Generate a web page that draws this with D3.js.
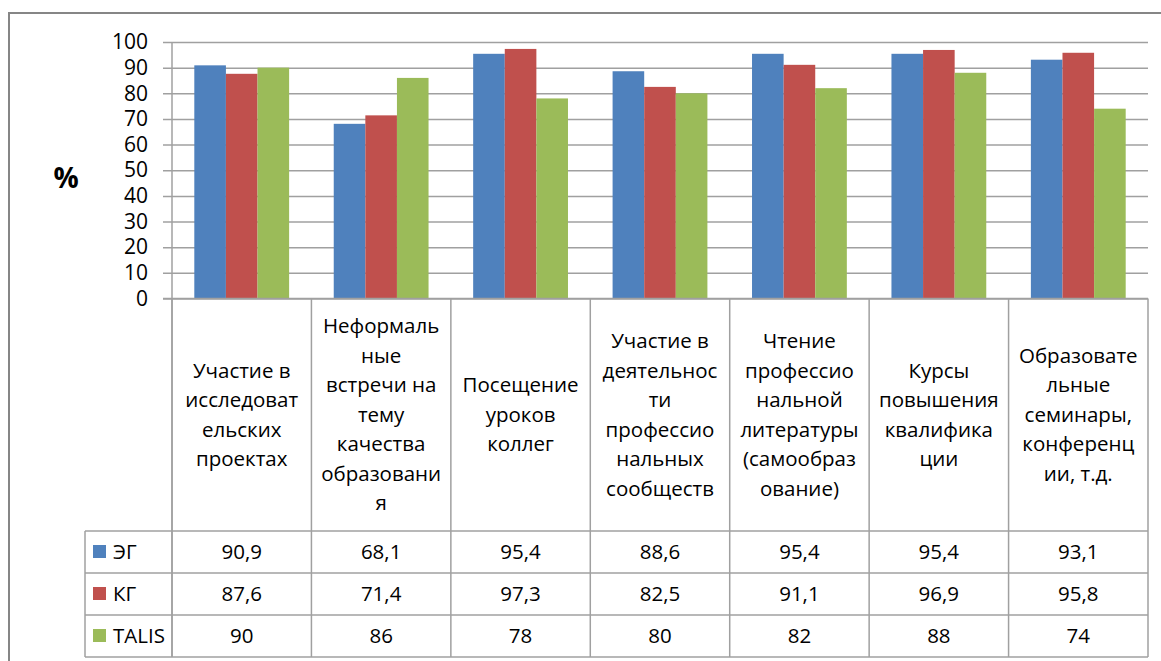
<!DOCTYPE html>
<html><head><meta charset="utf-8">
<script src="https://cdn.jsdelivr.net/npm/d3@7"></script>
<style>
html,body{margin:0;padding:0;background:#fff;}
svg{display:block;}
text{font-family:"Open Sans","Noto Sans",sans-serif;fill:#000;}
</style></head>
<body>
<svg id="chart" width="1161" height="661"></svg>
<script>
const categories = [
  ["Участие в","исследоват","ельских","проектах"],
  ["Неформаль","ные","встречи на","тему","качества","образовани","я"],
  ["Посещение","уроков","коллег"],
  ["Участие в","деятельнос","ти","профессио","нальных","сообществ"],
  ["Чтение","профессио","нальной","литературы","(самообраз","ование)"],
  ["Курсы","повышения","квалифика","ции"],
  ["Образовате","льные","семинары,","конференц","ии, т.д."]
];
const seriesNames = ["ЭГ","КГ","TALIS"];
const valuesEG    = [90.9, 68.1, 95.4, 88.6, 95.4, 95.4, 93.1];
const valuesKG    = [87.6, 71.4, 97.3, 82.5, 91.1, 96.9, 95.8];
const valuesTALIS = [90, 86, 78, 80, 82, 88, 74];
const yTicks = [0,10,20,30,40,50,60,70,80,90,100];
const colors = ["#4F81BD","#C0504D","#9BBB59"];

const series = [valuesEG, valuesKG, valuesTALIS];
const svg = d3.select("#chart");

const L = 172, R = 1148, T = 42, B = 298.5;
const rowTop = 531, rowH = 42, legendLeft = 85;
const tableBottom = rowTop + rowH*3;

// outer frame
svg.append("rect").attr("x",9).attr("y",13).attr("width",1200).attr("height",700)
  .attr("fill","none").attr("stroke","#868686").attr("stroke-width",2);

const idx = d3.range(categories.length);
const x0 = d3.scaleBand().domain(idx).range([L,R]).paddingInner(0).paddingOuter(0);
const bw = x0.bandwidth();
const gap = bw*0.16;
const x1 = d3.scaleBand().domain(d3.range(seriesNames.length)).range([gap, bw-gap]);
const y = d3.scaleLinear().domain([0,100]).range([B,T]);

// gridlines + y axis
const yAxis = d3.axisLeft(y).tickValues(yTicks).tickSize(-(R-L)).tickPadding(15).tickFormat(d3.format("d"));
const gy = svg.append("g").attr("transform",`translate(${L},0)`).call(yAxis);
gy.select(".domain").remove();
gy.selectAll(".tick line").attr("stroke","#a0a0a0").attr("stroke-width",1.5).attr("x1",-9);
gy.selectAll(".tick text").attr("font-size",21).attr("font-family","Open Sans").attr("fill","#000").attr("x",-24);

// bars
series.forEach((vals,si)=>{
  svg.append("g").selectAll("rect").data(vals).join("rect")
    .attr("x",(d,i)=>x0(i)+x1(si))
    .attr("y",d=>y(d))
    .attr("width",x1.bandwidth())
    .attr("height",d=>y(0)-y(d))
    .attr("fill",colors[si]);
});

// axes / table lines
const lineColor = "#a0a0a0";
svg.append("line").attr("x1",L-9).attr("x2",R).attr("y1",B).attr("y2",B).attr("stroke",lineColor).attr("stroke-width",1.5);
svg.append("line").attr("x1",L).attr("x2",L).attr("y1",T).attr("y2",tableBottom).attr("stroke",lineColor).attr("stroke-width",1.5);
idx.concat([categories.length]).forEach(i=>{
  const xx = i<categories.length ? x0(i) : R;
  svg.append("line").attr("x1",xx).attr("x2",xx).attr("y1",B).attr("y2",tableBottom).attr("stroke",lineColor).attr("stroke-width",1.5);
});
for(let r=0;r<=3;r++){
  svg.append("line").attr("x1",legendLeft).attr("x2",R).attr("y1",rowTop+r*rowH).attr("y2",rowTop+r*rowH).attr("stroke",lineColor).attr("stroke-width",1.5);
}
svg.append("line").attr("x1",legendLeft).attr("x2",legendLeft).attr("y1",rowTop).attr("y2",tableBottom).attr("stroke",lineColor).attr("stroke-width",1.5);

// category labels
const lh = 29.5, midY = (B+rowTop)/2;
categories.forEach((lines,i)=>{
  const t = svg.append("text").attr("text-anchor","middle").attr("font-size",20.5);
  const start = midY - (lines.length-1)*lh/2;
  lines.forEach((ln,k)=>{
    t.append("tspan").attr("x",x0(i)+bw/2).attr("y",start+k*lh).attr("dy","0.35em").text(ln);
  });
});

// table rows
const fmt = v => String(v).replace(".",",");
series.forEach((vals,si)=>{
  const cy = rowTop + si*rowH + rowH/2;
  svg.append("rect").attr("x",93).attr("y",cy-7).attr("width",13).attr("height",13).attr("fill",colors[si]);
  svg.append("text").attr("x",113).attr("y",cy).attr("dy","0.35em").attr("font-size",20.5).text(seriesNames[si]);
  svg.append("g").selectAll("text").data(vals).join("text")
    .attr("x",(d,i)=>x0(i)+bw/2).attr("y",cy).attr("dy","0.35em")
    .attr("text-anchor","middle").attr("font-size",20.5).text(d=>fmt(d));
});

// % label
svg.append("text").attr("x",66).attr("y",178).attr("dy","0.35em").attr("text-anchor","middle")
  .attr("font-size",28).attr("font-weight","bold").text("%");
</script>
</body></html>
